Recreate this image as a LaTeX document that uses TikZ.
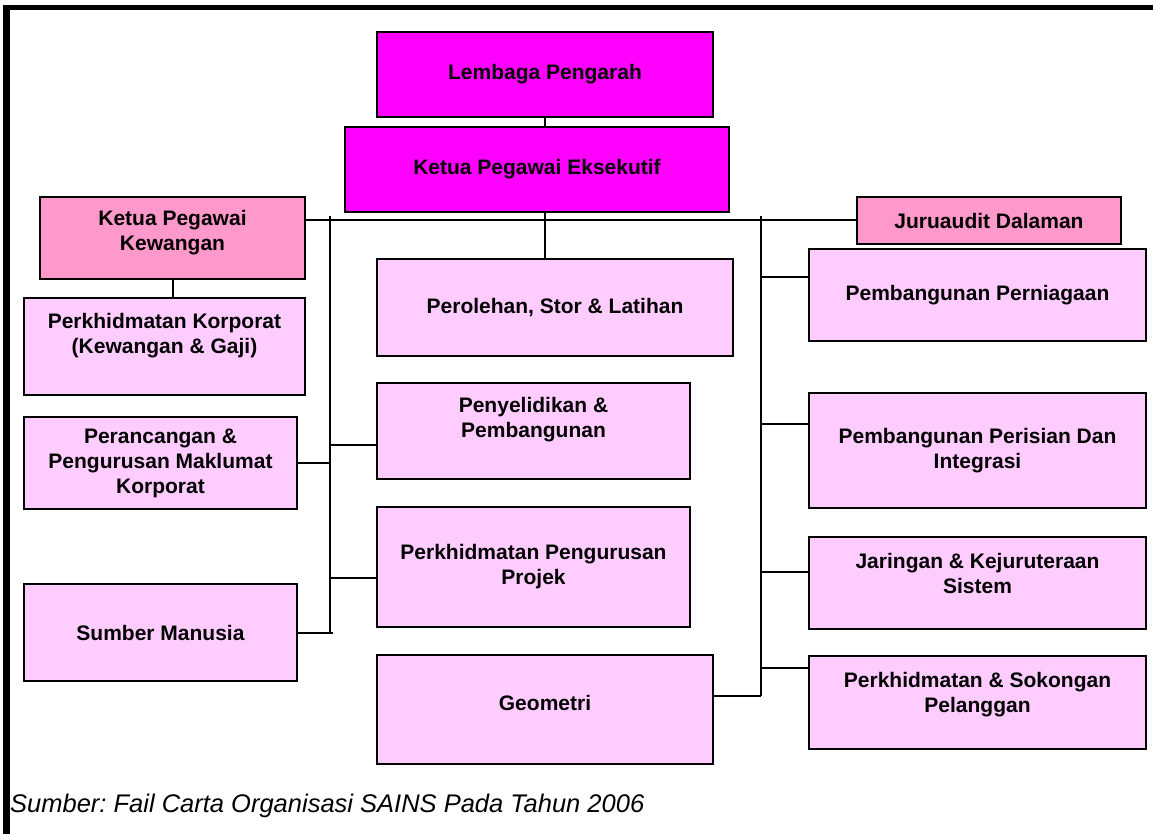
\documentclass[tikz,border=0pt]{standalone}
\usepackage{fontspec}
\setmainfont{Liberation Sans}
\frenchspacing
\definecolor{headfill}{HTML}{FF00FF}
\definecolor{officerfill}{HTML}{FF99CC}
\definecolor{unitfill}{HTML}{FFCCFF}
\begin{document}
\begin{tikzpicture}[x=1pt,y=-1pt,
  unittext/.style={align=center,inner sep=0pt,font=\bfseries\fontsize{21}{25}\selectfont},
  unit/.style={unittext,draw,line width=2pt,fill=unitfill},
  head/.style={unit,fill=headfill},
  officer/.style={unit,fill=officerfill},
  boxsize/.style 2 args={minimum width=#1pt,minimum height=#2pt},
  wire/.style={line width=2pt}]
\useasboundingbox (0,0) rectangle (1153,834);
\draw[line width=7pt] (6.5,834) -- (6.5,5);
\draw[line width=5pt] (3,7.5) -- (1153,7.5);

\node[head,boxsize={336}{85}] (lembaga) at (545,74.5) {Lembaga Pengarah};
\node[head,boxsize={384}{85}] (kpe) at (537,169.5) {Ketua Pegawai Eksekutif};
\node[officer,boxsize={265}{82}] (kpk) at (172.5,238) {};
\node[unittext] (kpk-t) at ([yshift=5pt]kpk.center) {Ketua Pegawai\\Kewangan};
\node[officer,boxsize={264}{47}] (audit) at (989,220.5) {Juruaudit Dalaman};

\node[unit,boxsize={281}{97}] (korporat) at (164.5,346.5) {};
\node[unittext] (korporat-t) at ([yshift=11pt]korporat.center) {Perkhidmatan Korporat\\(Kewangan \& Gaji)};
\node[unit,boxsize={273}{92}] (perancangan) at (160.5,463) {Perancangan \&\\Pengurusan Maklumat\\Korporat};
\node[unit,boxsize={273}{97}] (sumber) at (160.5,632.5) {Sumber Manusia};

\node[unit,boxsize={356}{97}] (perolehan) at (555,307.5) {Perolehan, Stor \& Latihan};
\node[unit,boxsize={313}{96}] (penyelidikan) at (533.5,431) {};
\node[unittext] (penyelidikan-t) at ([yshift=11pt]penyelidikan.center) {Penyelidikan \&\\Pembangunan};
\node[unit,boxsize={313}{120}] (projek) at (533.5,567) {Perkhidmatan Pengurusan\\Projek};
\node[unit,boxsize={336}{109}] (geometri) at (545,709.5) {};
\node[unittext] (geometri-t) at ([yshift=7pt]geometri.center) {Geometri};

\node[unit,boxsize={337}{92}] (perniagaan) at (977.5,295) {Pembangunan Perniagaan};
\node[unit,boxsize={337}{115}] (perisian) at (977.5,450.5) {Pembangunan Perisian Dan\\Integrasi};
\node[unit,boxsize={337}{92}] (jaringan) at (977.5,583) {};
\node[unittext] (jaringan-t) at ([yshift=10pt]jaringan.center) {Jaringan \& Kejuruteraan\\Sistem};
\node[unit,boxsize={337}{93}] (sokongan) at (977.5,702.5) {};
\node[unittext] (sokongan-t) at ([yshift=8pt]sokongan.center) {Perkhidmatan \& Sokongan\\Pelanggan};

\coordinate (ltop) at (330,216);
\coordinate (lbot) at (330,632);
\coordinate (rtop) at (761,216);
\coordinate (rbot) at (761,696);

\draw[wire] (lembaga.south) -- (lembaga.south |- kpe.north);
\draw[wire] (kpe.south -| lembaga.south) -- (lembaga.south |- perolehan.north);
\draw[wire] (kpk.east |- audit.west) -- (audit.west);
\draw[wire] (kpk.south) -- (kpk.south |- korporat.north);
\draw[wire] (ltop) -- (lbot);
\draw[wire] (rtop) -- (rbot);
\draw[wire] (perancangan.east) -- (perancangan.east -| ltop);
\draw[wire] ([yshift=-14pt]penyelidikan.west) -- ([yshift=-14pt]penyelidikan.west -| ltop);
\draw[wire] ([yshift=-11pt]projek.west) -- ([yshift=-11pt]projek.west -| ltop);
\draw[wire] (sumber.east) -- ([xshift=3pt]sumber.east -| lbot);
\draw[wire] ([yshift=13.5pt]geometri.east) -- ([yshift=13.5pt]geometri.east -| rbot);
\draw[wire] ([yshift=18pt]perniagaan.west) -- ([yshift=18pt]perniagaan.west -| rtop);
\draw[wire] ([yshift=26.5pt]perisian.west) -- ([yshift=26.5pt]perisian.west -| rtop);
\draw[wire] ([yshift=11pt]jaringan.west) -- ([yshift=11pt]jaringan.west -| rtop);
\draw[wire] ([yshift=34.5pt]sokongan.west) -- ([yshift=34.5pt]sokongan.west -| rtop);

\node[anchor=west,inner sep=0pt,font=\itshape\fontsize{25.5}{30}\selectfont] (source) at (10,806) {Sumber: Fail Carta Organisasi SAINS Pada Tahun 2006};
\end{tikzpicture}
\end{document}
